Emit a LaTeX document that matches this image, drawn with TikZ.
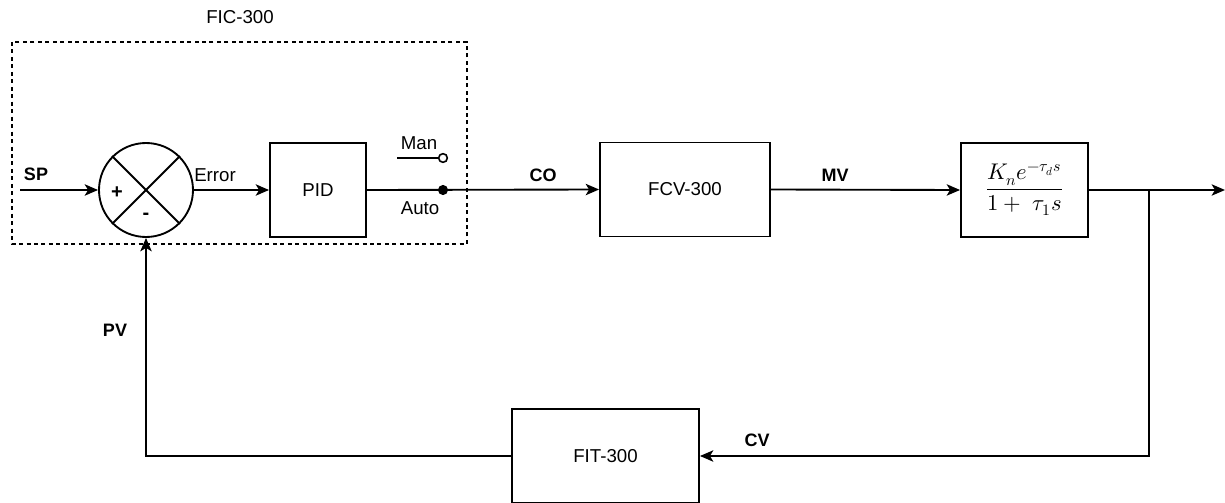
\documentclass[tikz,border=0pt]{standalone}
\usepackage{fontspec}
\setmainfont{Liberation Sans}
\usepackage{unicode-math}
\setmathfont{Latin Modern Math}
\usetikzlibrary{arrows.meta,shapes.geometric}
\begin{document}
\begin{tikzpicture}[x=0.75pt,y=-0.75pt,
  line width=1.4pt,
  font=\fontsize{14}{16}\selectfont,
  arr/.style={-{Stealth[length=10pt,width=8.5pt,inset=2.5pt]}},
  blockbox/.style={draw,rectangle,inner sep=0pt,minimum height=70.5pt},
  lbl/.style={font=\fontsize{13.5}{15}\selectfont\bfseries},
  txt/.style={font=\fontsize{14}{16}\selectfont}
]
\useasboundingbox (0,0) rectangle (1225,503);
% dashed controller frame
\draw[line width=1.1pt,dash pattern=on 3pt off 2.6pt] (12,42) rectangle (467,244);
\node[txt] (fic) at (240,17) {FIC-300};

% summing junction
\node[draw,circle,minimum size=70.5pt,inner sep=0pt] (sum) at (146,190) {};
\draw (sum.north west) -- (sum.south east);
\draw (sum.north east) -- (sum.south west);
\node[font=\fontsize{15}{16}\selectfont\bfseries] (plus) at (117,193) {+};
\node[font=\fontsize{15}{16}\selectfont\bfseries] (minus) at (146,216) {-};

% blocks
\node[blockbox,minimum width=72pt] (pid) at (318,190) {PID};
\node[blockbox,minimum width=127.5pt] (fcv) at (685,189.5) {FCV-300};
\node[blockbox,minimum width=95.25pt] (tf) at (1024.5,190)
  {\fontsize{17}{20}\selectfont$\displaystyle\frac{K_n e^{-\tau_d s}}{1+\ \tau_1 s}$};
\node[blockbox,minimum width=140.25pt] (fit) at (605.5,456) {FIT-300};

% input
\coordinate (spin) at (20,190);
\draw[arr] (spin) -- (sum.west);
\node[lbl] (sp) at (36,174) {SP};

% error
\draw[arr] (sum.east) -- (pid.west);
\node[txt] (err) at (215,175) {Error};

% switch
\coordinate (autodot) at (443,190);
\draw[arr] (pid.east) -- (fcv.west);
\fill (autodot) circle[radius=3.8pt];
\node[txt] (auto) at (420,208) {Auto};
\coordinate (manstart) at (397,158);
\node[draw,circle,fill=white,minimum size=6.5pt,inner sep=0pt,line width=1.2pt] (manc) at (443,158) {};
\draw (manstart) -- (manc.west);
\node[txt] (man) at (419,143) {Man};
\node[lbl] (co) at (543,175) {CO};

% MV
\draw[arr] (fcv.east) -- (tf.west);
\node[lbl] (mv) at (835,175) {MV};

% output
\coordinate (out) at (1225,190);
\coordinate (br) at (1149,190);
\coordinate (brd) at (1149,456);
\draw[arr] (tf.east) -- (out);
\draw[arr] (br) -- (brd) -- (fit.east);
\node[lbl] (cv) at (757,440) {CV};

% feedback
\coordinate (fbc) at (146,456);
\draw[arr] (fit.west) -- (fbc) -- (sum.south);
\node[lbl] (pv) at (115,330) {PV};
\end{tikzpicture}
\end{document}
